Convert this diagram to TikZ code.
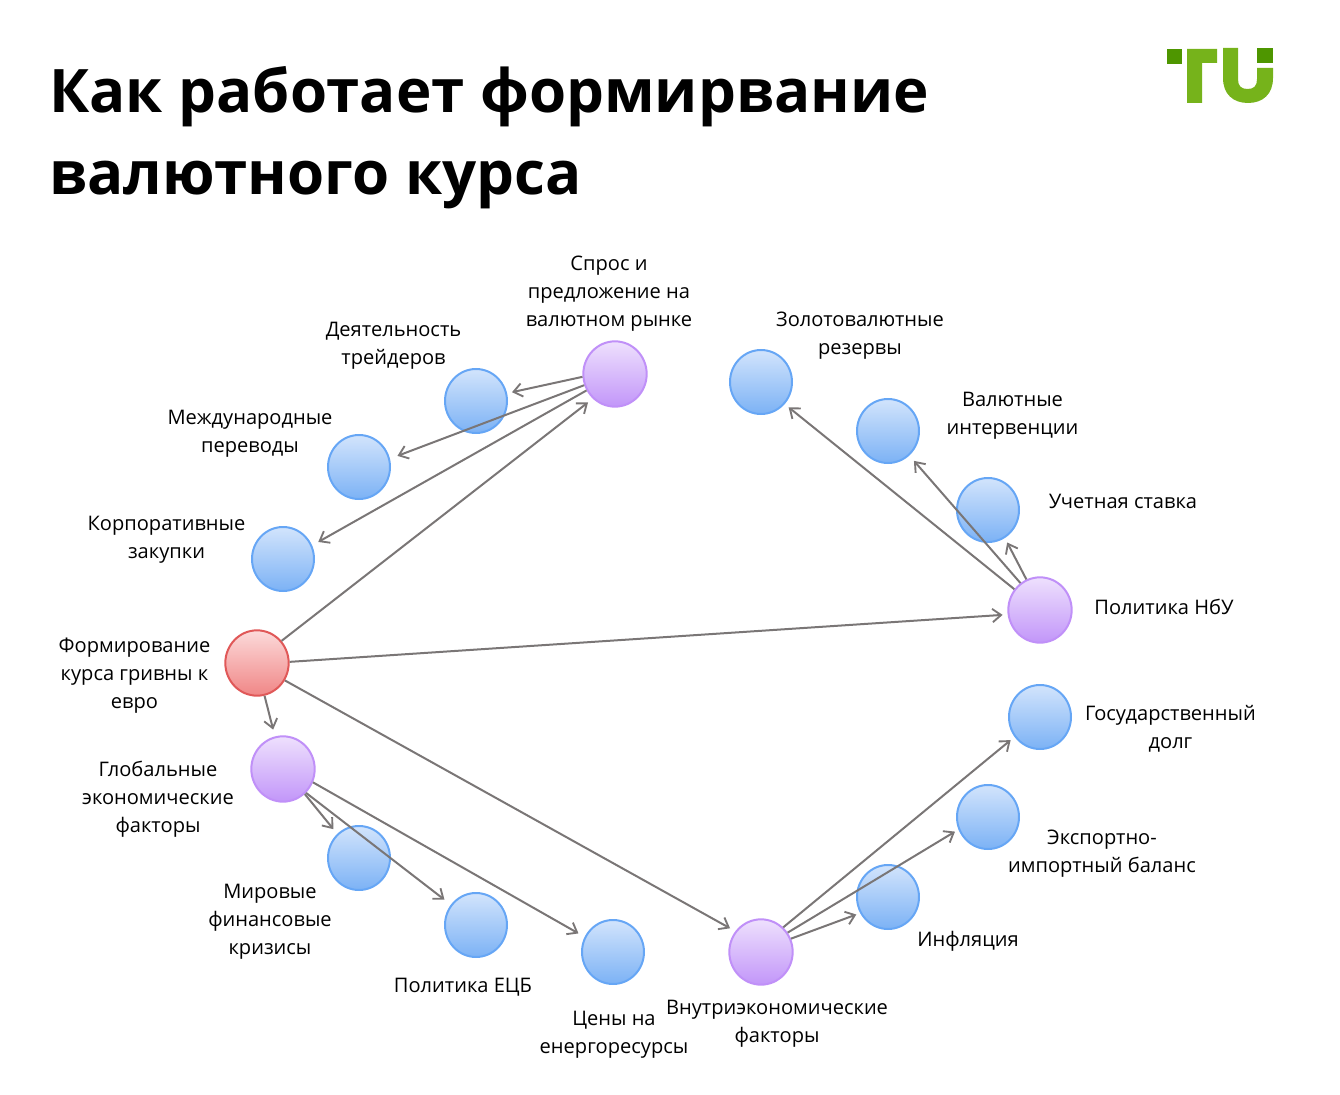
\documentclass[tikz,border=0pt]{standalone}
\usepackage{fontspec}
\setmainfont{Open Sans}
\usetikzlibrary{arrows.meta, shapes.geometric}
\definecolor{edgeGray}{HTML}{7A7676}
\definecolor{logoLight}{HTML}{76B31B}
\definecolor{logoDark}{HTML}{4E9600}
\tikzset{
    nodeBlue/.style={ellipse, draw={rgb,255:red,102;green,166;blue,245}, line width=1.5pt, top color={rgb,255:red,210;green,228;blue,252}, bottom color={rgb,255:red,124;green,178;blue,245}, inner sep=0pt, minimum width=46.5pt, minimum height=48pt},
    nodePurple/.style={nodeBlue, minimum width=47.5pt, minimum height=49pt, draw={rgb,255:red,192;green,144;blue,248}, top color={rgb,255:red,238;green,224;blue,253}, bottom color={rgb,255:red,194;green,150;blue,249}},
    nodeRed/.style={nodePurple, draw={rgb,255:red,224;green,88;blue,88}, top color={rgb,255:red,252;green,218;blue,218}, bottom color={rgb,255:red,240;green,134;blue,134}},
    linkEdge/.style={-{Straight Barb[length=6.5pt, width=10pt, line width=1.4pt]}, edgeGray, line width=1.5pt},
    textLabel/.style={align=center, font=\fontsize{15.05}{21}\selectfont, inner sep=0pt},
    titleLabel/.style={anchor=base west, inner sep=0pt, font=\fontsize{45}{54}\selectfont\bfseries},
}
\newcommand{\chanArrow}[3]{
    \draw[linkEdge, shorten >=#3*0.75pt] (#1) -- (#2);
}
\begin{document}
\begin{tikzpicture}[x=0.75pt, y=-0.75pt]
    \useasboundingbox (0, 0) rectangle (1340, 1095);

    % title
    \node[titleLabel] (title1) at (49, 113) {Как работает формирвание};
    \node[titleLabel] (title2) at (49, 195) {валютного курса};

    % logo
    \fill[logoDark] (1167, 49) rectangle (1182, 64);
    \fill[logoDark] (1257, 48) rectangle (1273, 63);
    \fill[logoLight] (1187, 49) -- (1217, 49) -- (1217, 63) -- (1202, 63) -- (1202, 103) -- (1187, 103) -- cycle;
    \fill[logoLight] (1223, 48) -- (1238, 48) -- (1238, 79) .. controls (1238, 86) and (1241, 89) .. (1247.5, 89)
        .. controls (1254, 89) and (1257, 86) .. (1257, 79) -- (1257, 68) -- (1273, 68) -- (1273, 78)
        .. controls (1273, 94) and (1263, 103) .. (1248, 103) .. controls (1233, 103) and (1223, 94) .. (1223, 78) -- cycle;

    % circles
    \node[nodeRed] (R) at (257, 663) {};
    \node[nodePurple] (P1) at (615, 374) {};
    \node[nodePurple] (P2) at (1040, 610) {};
    \node[nodePurple] (P3) at (283, 769) {};
    \node[nodePurple] (P4) at (761, 952) {};
    \node[nodeBlue] (trader) at (476, 401) {};
    \node[nodeBlue] (mezh) at (359, 467) {};
    \node[nodeBlue] (corp) at (283, 559) {};
    \node[nodeBlue] (gold) at (761, 382) {};
    \node[nodeBlue] (interv) at (888, 431) {};
    \node[nodeBlue] (stavka) at (988, 510) {};
    \node[nodeBlue] (dolg) at (1040, 717) {};
    \node[nodeBlue] (eksport) at (988, 817) {};
    \node[nodeBlue] (infl) at (888, 897) {};
    \node[nodeBlue] (mir) at (359, 858) {};
    \node[nodeBlue] (ecb) at (476, 925) {};
    \node[nodeBlue] (ceny) at (613, 952) {};

    % labels
    \node[textLabel] (lP1) at (609, 294) {Спрос и\\предложение на\\валютном рынке};
    \node[textLabel] (lTrader) at (393.5, 346) {Деятельность\\трейдеров};
    \node[textLabel] (lMezh) at (250, 434) {Международные\\переводы};
    \node[textLabel] (lCorp) at (166.5, 540) {Корпоративные\\закупки};
    \node[textLabel] (lR) at (134.5, 675.5) {Формирование\\курса гривны к\\евро};
    \node[textLabel] (lP3) at (158, 799) {Глобальные\\экономические\\факторы};
    \node[textLabel] (lMir) at (270, 922) {Мировые\\финансовые\\кризисы};
    \node[textLabel] (lEcb) at (463, 987) {Политика ЕЦБ};
    \node[textLabel] (lCeny) at (614, 1035) {Цены на\\енергоресурсы};
    \node[textLabel] (lP4) at (777, 1024) {Внутриэкономические\\факторы};
    \node[textLabel] (lInfl) at (968, 941) {Инфляция};
    \node[textLabel] (lEksport) at (1102, 854) {Экспортно-\\импортный баланс};
    \node[textLabel] (lDolg) at (1170.5, 729) {Государственный\\долг};
    \node[textLabel] (lP2) at (1164, 607) {Политика НбУ};
    \node[textLabel] (lStavka) at (1123, 501) {Учетная ставка};
    \node[textLabel] (lInterv) at (1012.5, 416) {Валютные\\интервенции};
    \node[textLabel] (lGold) at (860, 336) {Золотовалютные\\резервы};

    % arrows
    \chanArrow{R.42}{P1.228}{6}
    \chanArrow{R.2}{P2.188}{5}
    \chanArrow{R.283}{P3.104}{7}
    \chanArrow{R.328}{P4.141}{6}
    \chanArrow{P1.185}{trader.14}{5}
    \chanArrow{P1.200}{mezh.15}{8}
    \chanArrow{P1.210}{corp.25}{7}
    \chanArrow{P2.141}{gold.317}{5}
    \chanArrow{P2.126}{interv.311}{7}
    \chanArrow{P2.114}{stavka.301}{5}
    \chanArrow{P3.311}{mir.132}{6}
    \chanArrow{P3.314}{ecb.141}{8}
    \chanArrow{P3.336}{ceny.152}{7}
    \chanArrow{P4.24}{infl.210}{4}
    \chanArrow{P4.36}{eksport.203}{4}
    \chanArrow{P4.48}{dolg.218}{5}
\end{tikzpicture}
\end{document}
